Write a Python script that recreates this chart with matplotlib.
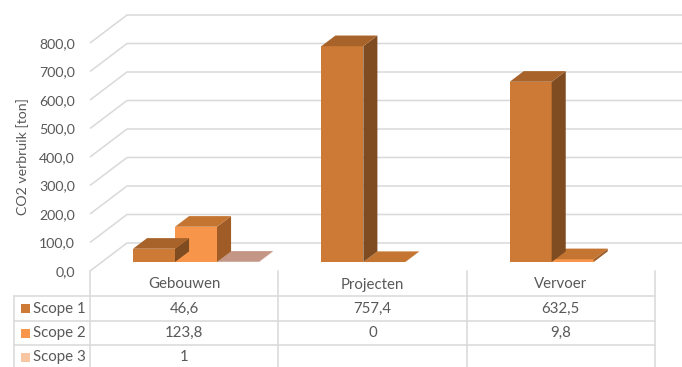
import matplotlib.pyplot as plt
import matplotlib.transforms as mtransforms
from matplotlib.patches import Polygon

# --- data ---
categories = ['Gebouwen', 'Projecten', 'Vervoer']
series = ['Scope 1', 'Scope 2', 'Scope 3']
scope1 = [46.6, 757.4, 632.5]
scope2 = [123.8, 0, 9.8]
scope3 = [1, None, None]
table_text = [['46,6', '757,4', '632,5'],
              ['123,8', '0', '9,8'],
              ['1', '', '']]
y_ticks = [0, 100, 200, 300, 400, 500, 600, 700, 800]

# --- colours (front, side, top, legend) ---
COLORS = [
    ('#CC7A36', '#7F4B21', '#A8632B', '#CC7A36'),
    ('#F7964A', '#A05C27', '#C47531', '#F7964A'),
    ('#E7B69E', '#B08777', '#C49686', '#F9C6A4'),
]
GRID = '#D9D9D9'
TEXT = '#595959'

plt.rcParams['font.family'] = ['Lato', 'DejaVu Sans']

W, H = 682, 367
fig = plt.figure(figsize=(W / 100, H / 100), dpi=100)

# front plane of the 3D chart
AX_L, AX_R, AX_T, AX_B = 90, 655, 43, 271
ax = fig.add_axes([AX_L / W, (H - AX_B) / H, (AX_R - AX_L) / W, (AX_B - AX_T) / H])
ax.set_xlim(0, 3)
ax.set_ylim(0, 800)
for s in ax.spines.values():
    s.set_visible(False)
ax.set_xticks([])
ax.set_yticks(y_ticks)
ax.set_yticklabels([f'{v:.1f}'.replace('.', ',') for v in y_ticks])
ax.tick_params(axis='y', length=0, pad=11, labelsize=10.2, labelcolor=TEXT)
ax.set_ylabel('CO2 verbruik [ton]', fontsize=10.2, color=TEXT, labelpad=7)
ax.patch.set_visible(False)

# depth offset (oblique projection) in data units
DX = 37 / (AX_R - AX_L) * 3
DY = 28 / (AX_B - AX_T) * 800
D0, D1 = 0.32, 0.70   # bar front/back depth fraction
BW = 0.223            # bar width per category

# gridlines: slanted side wall + back wall
for v in y_ticks:
    ax.plot([0, DX, 3 + DX], [v, v + DY, v + DY], color=GRID, lw=1.1,
            clip_on=False, zorder=1, solid_capstyle='butt')


def draw_bar(x0, v, c):
    front, side, top, _ = c
    fx, fy = D0 * DX, D0 * DY
    bx, by = D1 * DX, D1 * DY
    if v > 0:
        ax.add_patch(Polygon([(x0 + fx, fy), (x0 + BW + fx, fy),
                              (x0 + BW + fx, v + fy), (x0 + fx, v + fy)],
                             closed=True, fc=front, ec='none', clip_on=False, zorder=3))
        ax.add_patch(Polygon([(x0 + BW + fx, fy), (x0 + BW + bx, by),
                              (x0 + BW + bx, v + by), (x0 + BW + fx, v + fy)],
                             closed=True, fc=side, ec='none', clip_on=False, zorder=3))
    ax.add_patch(Polygon([(x0 + fx, v + fy), (x0 + BW + fx, v + fy),
                          (x0 + BW + bx, v + by), (x0 + bx, v + by)],
                         closed=True, fc=top, ec='none', clip_on=False, zorder=3))


values = [scope1, scope2, scope3]
# paint right to left so left bars' side faces overlap neighbours
for i in reversed(range(len(categories))):
    for s in reversed(range(len(series))):
        v = values[s][i]
        if v is None:
            continue
        x0 = i + 0.5 - 1.5 * BW + s * BW
        draw_bar(x0, v, COLORS[s])

# --- data table below the chart (pixel layout, top-down) ---
pix = mtransforms.Affine2D().scale(1 / W, -1 / H).translate(0, 1) + fig.transFigure
col_x = [AX_L + k * (AX_R - AX_L) / 3 for k in range(4)]
LBL_L = 14
row_y = [AX_B, 296, 321, 345, 369]


def line(xs, ys):
    fig.add_artist(plt.Line2D(xs, ys, transform=pix, color=GRID, lw=1.1))


for x in col_x:
    line([x, x], [row_y[0], H])
line([LBL_L, LBL_L], [row_y[1], H])
for y in row_y[1:4]:
    line([LBL_L, AX_R], [y, y])

FS = 10.8
for i, cat in enumerate(categories):
    cx = (col_x[i] + col_x[i + 1]) / 2
    fig.text(cx, (row_y[0] + row_y[1]) / 2 + 1, cat, transform=pix, ha='center',
             va='center', fontsize=FS, color=TEXT)
    for r in range(len(series)):
        fig.text(cx, (row_y[r + 1] + row_y[r + 2]) / 2, table_text[r][i], transform=pix,
                 ha='center', va='center', fontsize=FS, color=TEXT)

for r, name in enumerate(series):
    cy = (row_y[r + 1] + row_y[r + 2]) / 2
    fig.add_artist(plt.Rectangle((21, cy + 4.5), 9, -9, transform=pix,
                                 fc=COLORS[r][3], ec='none'))
    fig.text(33, cy, name, transform=pix, ha='left', va='center',
             fontsize=FS, color=TEXT)

fig.savefig('out.png', dpi=100)
